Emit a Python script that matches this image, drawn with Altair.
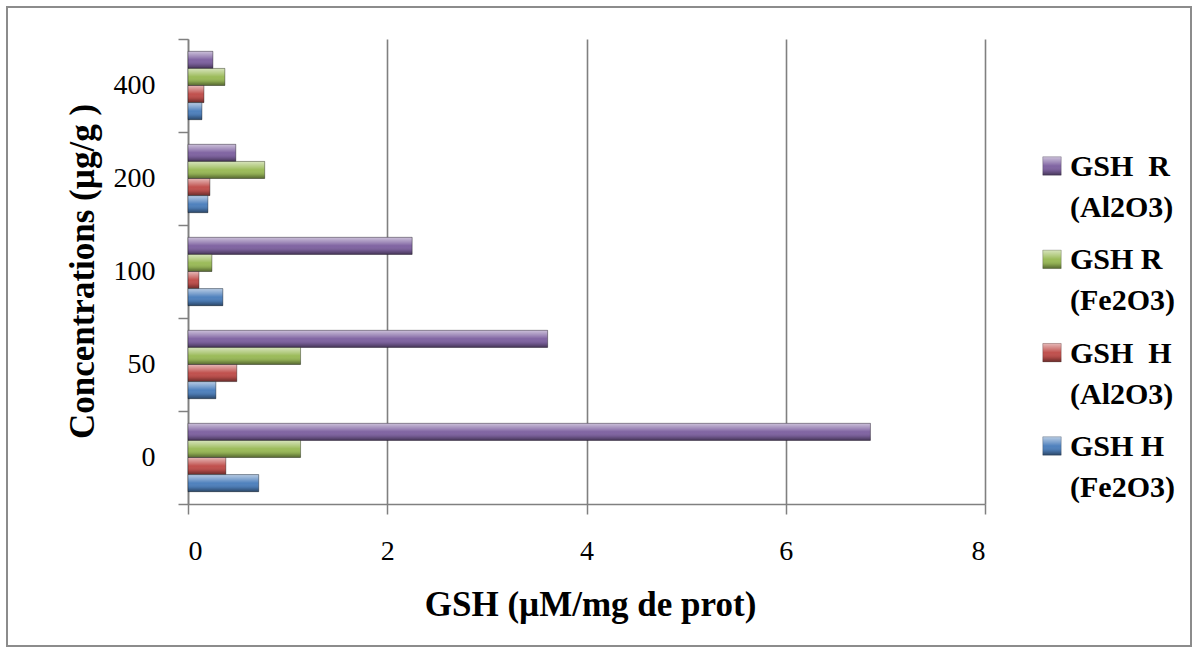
import altair as alt
import pandas as pd

# ---- data ----
concentrations = ["0", "50", "100", "200", "400"]
series = [
    "GSH\u00a0\u00a0R|(Al2O3)",
    "GSH R|(Fe2O3)",
    "GSH\u00a0\u00a0H|(Al2O3)",
    "GSH H|(Fe2O3)",
]
gsh_r_al2o3 = [6.85, 3.61, 2.25, 0.48, 0.25]
gsh_r_fe2o3 = [1.13, 1.13, 0.24, 0.77, 0.37]
gsh_h_al2o3 = [0.38, 0.49, 0.11, 0.22, 0.16]
gsh_h_fe2o3 = [0.71, 0.28, 0.35, 0.20, 0.14]
colors = ["#8064A2", "#9BBB59", "#C0504D", "#4F81BD"]
x_ticks = [0, 2, 4, 6, 8]

values_by_series = [gsh_r_al2o3, gsh_r_fe2o3, gsh_h_al2o3, gsh_h_fe2o3]
rows = []
for s, vals in zip(series, values_by_series):
    for c, v in zip(concentrations, vals):
        rows.append({"conc": c, "series": s, "value": v})
df = pd.DataFrame(rows)
legend_df = pd.DataFrame({"series": series})

FONT = "Liberation Serif"
GRAY = "#808080"

color_enc = alt.Color(
    "series:N", sort=series, scale=alt.Scale(domain=series, range=colors), legend=None
)

base = alt.Chart(df).encode(
    x=alt.X(
        "value:Q",
        scale=alt.Scale(domain=[0, 8], nice=False),
        axis=alt.Axis(
            values=x_ticks,
            title="GSH (µM/mg de prot)",
            titleFont=FONT,
            titleFontSize=35,
            titleFontWeight="bold",
            titleColor="#000000",
            titleX=402,
            titleY=111,
            titleBaseline="alphabetic",
            titleAlign="center",
            labelFont=FONT,
            labelFontSize=28,
            labelColor="#000000",
            labelPadding=23,
            tickSize=10,
            tickColor=GRAY,
            tickWidth=1.5,
            domainColor=GRAY,
            domainWidth=1.5,
            grid=True,
            gridColor=GRAY,
            gridWidth=1.6,
        ),
    ),
    y=alt.Y(
        "conc:N",
        sort=list(reversed(concentrations)),
        scale=alt.Scale(paddingInner=0, paddingOuter=0),
        axis=alt.Axis(
            title="Concentrations (µg/g )",
            titleFont=FONT,
            titleFontSize=35,
            titleFontWeight="bold",
            titleColor="#000000",
            titleAngle=270,
            titleX=-95,
            titleY=232,
            titleBaseline="alphabetic",
            titleAlign="center",
            labelFont=FONT,
            labelFontSize=28,
            labelColor="#000000",
            labelPadding=23,
            tickSize=10,
            tickColor=GRAY,
            tickWidth=1.5,
            tickBand="extent",
            domainColor=GRAY,
            domainWidth=1.5,
            grid=False,
        ),
    ),
    yOffset=alt.YOffset(
        "series:N",
        sort=series,
        scale=alt.Scale(paddingInner=0, paddingOuter=0.72),
    ),
)

bars = base.mark_bar(strokeWidth=0).encode(color=color_enc)

bevel = alt.LinearGradient(
    gradient="linear",
    x1=0, x2=0, y1=0, y2=1,
    stops=[
        alt.GradientStop(color="rgba(255,255,255,0.6)", offset=0),
        alt.GradientStop(color="rgba(255,255,255,0.25)", offset=0.3),
        alt.GradientStop(color="rgba(255,255,255,0)", offset=0.5),
        alt.GradientStop(color="rgba(0,0,0,0.1)", offset=0.75),
        alt.GradientStop(color="rgba(0,0,0,0.45)", offset=1),
    ],
)
overlay = base.mark_bar(fill=bevel, stroke="rgba(0,0,0,0.45)", strokeWidth=0.8)

main = alt.layer(bars, overlay)

# ---- legend (built from the series list) ----
leg_y = alt.Y(
    "series:N",
    sort=series,
    axis=None,
    scale=alt.Scale(type="point", range=[127, 407], padding=0),
)
leg_sym = alt.Chart(legend_df).mark_square(size=340, opacity=1).encode(
    x=alt.value(864), y=leg_y, color=color_enc
)
leg_sym_bevel = alt.Chart(legend_df).mark_square(
    size=340, opacity=1, fill=bevel, stroke="rgba(0,0,0,0.35)", strokeWidth=0.6
).encode(x=alt.value(864), y=leg_y)
leg_txt = alt.Chart(legend_df).mark_text(
    font=FONT,
    fontSize=30,
    fontWeight="bold",
    color="#000000",
    align="left",
    baseline="alphabetic",
    lineBreak="|",
    lineHeight=41,
    dy=10,
).encode(x=alt.value(882), y=leg_y, text="series:N")
legend = alt.layer(leg_sym, leg_sym_bevel, leg_txt)

frame = alt.Chart(pd.DataFrame({"k": [0]})).mark_rect(
    fillOpacity=0, stroke="#8c8c8c", strokeWidth=2
).encode(
    x=alt.value(-181), x2=alt.value(1003), y=alt.value(-32), y2=alt.value(607)
)

chart = (
    alt.layer(frame, main, legend)
    .resolve_scale(y="independent")
    .properties(
        width=797,
        height=465,
        autosize=alt.AutoSizeParams(type="none"),
        padding={"left": 188, "top": 39, "right": 211, "bottom": 144},
        background="#ffffff",
    )
    .configure_view(strokeWidth=0)
)

chart.save("out.html", embed_options={"renderer": "svg", "actions": False})
